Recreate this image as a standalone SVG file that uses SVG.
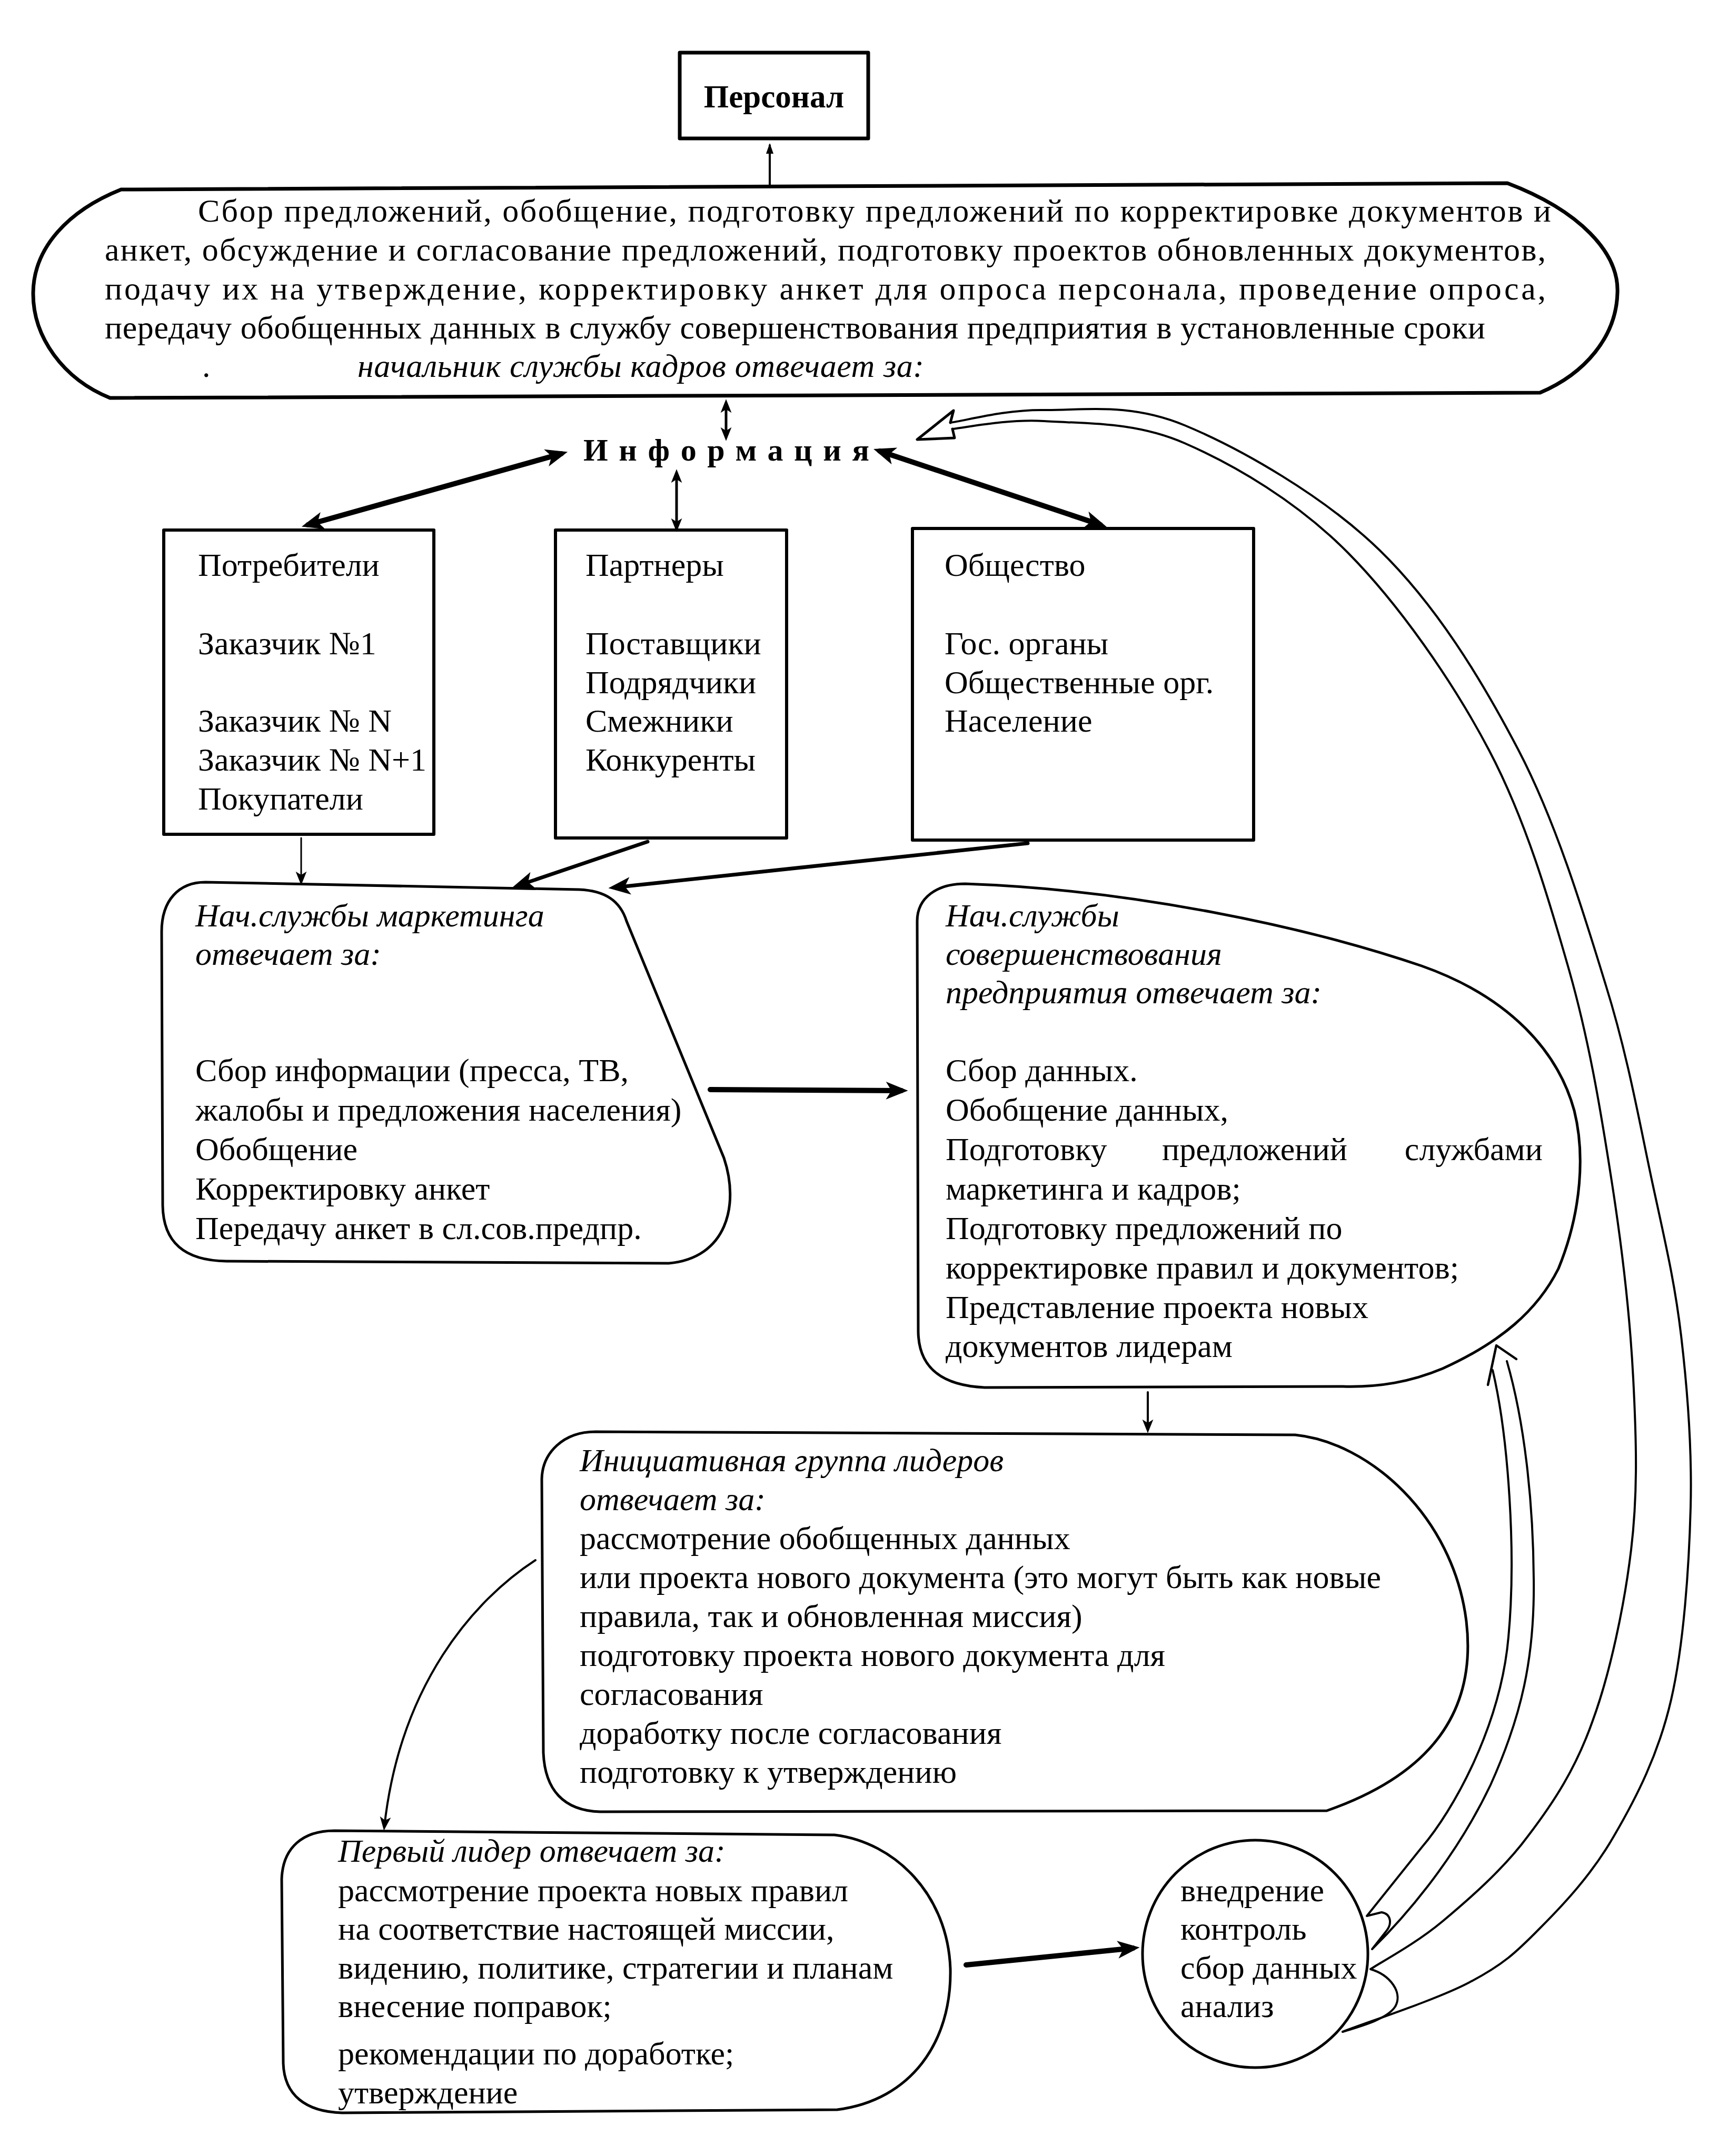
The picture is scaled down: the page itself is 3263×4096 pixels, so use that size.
<svg xmlns="http://www.w3.org/2000/svg" width="3263" height="4096" viewBox="0 0 3263 4096">
<style>
.b{fill:none;stroke:#000;stroke-width:5;stroke-linejoin:round}
.t{font-family:"Liberation Serif","Times New Roman",serif;font-size:62px;fill:#000}
.i{font-style:italic}
.c{fill:none;stroke:#000;stroke-linecap:round;stroke-linejoin:round}
</style>
<defs>
<marker id="ah" viewBox="0 0 10 10" refX="7" refY="5" markerWidth="50" markerHeight="42" markerUnits="userSpaceOnUse" orient="auto-start-reverse"><path d="M0,1 L10,5 L0,9 L2.5,5 Z" fill="#000"/></marker>
<marker id="as" viewBox="0 0 10 10" refX="7" refY="5" markerWidth="34" markerHeight="26" markerUnits="userSpaceOnUse" orient="auto-start-reverse"><path d="M0,1 L10,5 L0,9 L2.5,5 Z" fill="#000"/></marker>
<marker id="an" viewBox="0 0 10 10" refX="8" refY="5" markerWidth="30" markerHeight="20" markerUnits="userSpaceOnUse" orient="auto"><path d="M0,1.5 L10,5 L0,8.5 Z" fill="#000"/></marker>
</defs>
<rect width="3263" height="4096" fill="#fff"/>

<g id="personal">
<rect x="1291" y="100" width="358" height="163" class="b" style="stroke-width:7"/>
<text x="1470" y="204" class="t" style="font-weight:bold;font-size:61px" text-anchor="middle">Персонал</text>
</g>

<g id="hr-head">
<path class="b" style="stroke-width:7" d="M230,360 L2863,348 C3000,400 3075,480 3072,556 C3070,640 3010,710 2925,746 L209,756 C120,720 62,640 63,556 C64,470 130,400 230,360 Z"/>
<text class="t" x="376" y="421" textLength="2570">Сбор предложений, обобщение, подготовку предложений по корректировке документов и</text>
<text class="t" x="199" y="495" textLength="2737">анкет, обсуждение и согласование предложений, подготовку проектов обновленных документов,</text>
<text class="t" x="199" y="569" textLength="2737">подачу их на утверждение, корректировку анкет для опроса персонала, проведение опроса,</text>
<text class="t" x="199" y="643" textLength="2622">передачу обобщенных данных в службу совершенствования предприятия в установленные сроки</text>
<text class="t" x="384" y="716">.</text>
<text class="t i" x="679" y="716" textLength="1076">начальник службы кадров отвечает за:</text>
</g>

<g id="info">
<text class="t" x="1108" y="875" style="font-weight:bold;font-size:60px" textLength="543" lengthAdjust="spacing">Информация</text>
</g>

<g id="consumers">
<rect x="311" y="1007" width="513" height="578" class="b" style="stroke-width:6"/>
<text class="t" x="376" y="1094">Потребители</text>
<text class="t" x="376" y="1243">Заказчик №1</text>
<text class="t" x="376" y="1390">Заказчик № N</text>
<text class="t" x="376" y="1464">Заказчик № N+1</text>
<text class="t" x="376" y="1538">Покупатели</text>
</g>

<g id="partners">
<rect x="1055" y="1007" width="439" height="585" class="b" style="stroke-width:6"/>
<text class="t" x="1112" y="1094">Партнеры</text>
<text class="t" x="1112" y="1243">Поставщики</text>
<text class="t" x="1112" y="1317">Подрядчики</text>
<text class="t" x="1112" y="1390">Смежники</text>
<text class="t" x="1112" y="1464">Конкуренты</text>
</g>

<g id="society">
<rect x="1733" y="1004" width="648" height="592" class="b" style="stroke-width:6"/>
<text class="t" x="1794" y="1094">Общество</text>
<text class="t" x="1794" y="1243">Гос. органы</text>
<text class="t" x="1794" y="1317">Общественные орг.</text>
<text class="t" x="1794" y="1390">Население</text>
</g>

<g id="marketing">
<path class="b" d="M390,1676 L1100,1690 C1150,1692 1178,1712 1190,1750 L1375,2200 C1405,2290 1380,2390 1270,2400 L430,2396 C350,2395 310,2360 309,2290 L307,1770 C307,1710 340,1676 390,1676 Z"/>
<text class="t i" x="371" y="1760">Нач.службы маркетинга</text>
<text class="t i" x="371" y="1833">отвечает за:</text>
<text class="t" x="371" y="2054">Сбор информации (пресса, ТВ,</text>
<text class="t" x="371" y="2129">жалобы и предложения населения)</text>
<text class="t" x="371" y="2204">Обобщение</text>
<text class="t" x="371" y="2279">Корректировку анкет</text>
<text class="t" x="371" y="2354">Передачу анкет в сл.сов.предпр.</text>
</g>

<g id="improvement">
<path class="b" d="M1833,1679 C2150,1690 2480,1760 2700,1835 C2870,1895 2960,2000 2990,2110 C3010,2190 3005,2300 2960,2410 C2920,2490 2850,2550 2740,2600 C2680,2625 2620,2636 2550,2634 L1870,2636 C1790,2632 1745,2600 1744,2530 L1742,1750 C1742,1705 1780,1679 1833,1679 Z"/>
<text class="t i" x="1796" y="1760">Нач.службы</text>
<text class="t i" x="1796" y="1833">совершенствования</text>
<text class="t i" x="1796" y="1906">предприятия  отвечает за:</text>
<text class="t" x="1796" y="2054">Сбор данных.</text>
<text class="t" x="1796" y="2129">Обобщение данных,</text>
<text class="t" x="1796" y="2204">Подготовку</text>
<text class="t" x="2207" y="2204">предложений</text>
<text class="t" x="2930" y="2204" text-anchor="end">службами</text>
<text class="t" x="1796" y="2279">маркетинга и кадров;</text>
<text class="t" x="1796" y="2354">Подготовку предложений по</text>
<text class="t" x="1796" y="2429">корректировке правил и документов;</text>
<text class="t" x="1796" y="2504">Представление проекта новых</text>
<text class="t" x="1796" y="2578">документов лидерам</text>
</g>

<g id="initiative">
<path class="b" d="M1131,2720 L2460,2726 C2600,2740 2760,2880 2785,3080 C2805,3250 2720,3370 2520,3440 L1140,3442 C1070,3440 1035,3400 1032,3330 L1029,2810 C1030,2760 1070,2720 1131,2720 Z"/>
<text class="t i" x="1101" y="2795">Инициативная группа лидеров</text>
<text class="t i" x="1101" y="2869">отвечает за:</text>
<text class="t" x="1101" y="2943">рассмотрение обобщенных данных</text>
<text class="t" x="1101" y="3017">или проекта нового документа (это могут быть как новые</text>
<text class="t" x="1101" y="3091">правила, так и обновленная миссия)</text>
<text class="t" x="1101" y="3165">подготовку проекта нового документа для</text>
<text class="t" x="1101" y="3239">согласования</text>
<text class="t" x="1101" y="3313">доработку после согласования</text>
<text class="t" x="1101" y="3387">подготовку к  утверждению</text>
</g>

<g id="leader">
<path class="b" d="M635,3478 L1585,3486 C1700,3500 1800,3600 1805,3740 C1808,3880 1730,3990 1590,4008 L650,4014 C580,4012 540,3980 538,3920 L535,3570 C537,3510 575,3478 635,3478 Z"/>
<text class="t i" x="642" y="3537">Первый лидер отвечает за:</text>
<text class="t" x="642" y="3612">рассмотрение проекта новых правил</text>
<text class="t" x="642" y="3685">на соответствие настоящей  миссии,</text>
<text class="t" x="642" y="3759">видению, политике, стратегии и планам</text>
<text class="t" x="642" y="3832">внесение поправок;</text>
<text class="t" x="642" y="3922">рекомендации по доработке;</text>
<text class="t" x="642" y="3996">утверждение</text>
</g>

<g id="implementation">
<ellipse cx="2384" cy="3712" rx="214" ry="216" class="b"/>
<text class="t" x="2242" y="3612">внедрение</text>
<text class="t" x="2242" y="3685">контроль</text>
<text class="t" x="2242" y="3759">сбор данных</text>
<text class="t" x="2242" y="3832">анализ</text>
</g>

<g id="connectors">
<line class="c" x1="1462" y1="352" x2="1462" y2="276" style="stroke-width:4" marker-end="url(#an)"/>
<line class="c" x1="1379" y1="766" x2="1379" y2="830" style="stroke-width:5" marker-start="url(#as)" marker-end="url(#as)"/>
<line class="c" x1="1066" y1="862" x2="585" y2="997" style="stroke-width:10" marker-start="url(#ah)" marker-end="url(#ah)"/>
<line class="c" x1="1285" y1="899" x2="1285" y2="1003" style="stroke-width:5" marker-start="url(#as)" marker-end="url(#as)"/>
<line class="c" x1="1671" y1="857" x2="2090" y2="997" style="stroke-width:10" marker-start="url(#ah)" marker-end="url(#ah)"/>
<line class="c" x1="572" y1="1592" x2="572" y2="1674" style="stroke-width:3" marker-end="url(#as)"/>
<line class="c" x1="1230" y1="1599" x2="985" y2="1682" style="stroke-width:7" marker-end="url(#ah)"/>
<line class="c" x1="1952" y1="1602" x2="1168" y2="1686" style="stroke-width:7" marker-end="url(#ah)"/>
<line class="c" x1="1349" y1="2070" x2="1712" y2="2072" style="stroke-width:10" marker-end="url(#ah)"/>
<line class="c" x1="2180" y1="2645" x2="2180" y2="2715" style="stroke-width:4" marker-end="url(#as)"/>
<path class="c" d="M1017,2964 C900,3040 760,3200 730,3470" style="stroke-width:4" marker-end="url(#as)"/>
<line class="c" x1="1835" y1="3733" x2="2152" y2="3701" style="stroke-width:10" marker-end="url(#ah)"/>
<path class="c" style="stroke-width:4" d="M2835,2603 C2865,2730 2880,2950 2865,3110 C2850,3280 2760,3440 2700,3510 C2660,3560 2620,3610 2596,3640 L2624,3633 C2642,3636 2645,3655 2632,3670 L2606,3703 C2660,3650 2760,3540 2831,3391 C2890,3260 2915,3150 2913,3000 C2912,2850 2895,2700 2862,2586"/>
<path class="c" style="stroke-width:4.5" d="M2826,2631 L2842,2556 L2880,2582"/>
<path class="c" style="stroke-width:4" d="M1809,815 C1838,812 1910,796 1983,800 C2057,805 2154,800 2250,842 C2346,884 2464,953 2560,1050 C2656,1147 2758,1292 2828,1425 C2898,1558 2942,1709 2981,1846 C3020,1984 3042,2121 3062,2250 C3082,2379 3096,2503 3102,2619 C3108,2735 3111,2836 3098,2944 C3085,3052 3058,3179 3025,3269 C2993,3360 2951,3424 2903,3487 C2856,3551 2790,3608 2740,3650 C2690,3692 2626,3726 2603,3741 C2640,3752 2665,3785 2650,3812 C2635,3835 2590,3848 2550,3860"/>
<path class="c" style="stroke-width:4" d="M1805,803 C1835,799 1909,778 1983,779 C2057,780 2144,764 2250,808 C2356,852 2514,942 2620,1045 C2726,1148 2812,1287 2884,1425 C2956,1563 3008,1735 3050,1872 C3093,2010 3115,2139 3139,2250 C3163,2361 3181,2436 3193,2538 C3205,2640 3214,2748 3211,2863 C3208,2978 3198,3125 3174,3229 C3150,3333 3108,3415 3066,3487 C3025,3559 2971,3617 2925,3663 C2879,3710 2854,3733 2791,3766 C2729,3799 2590,3844 2550,3860"/>
<path class="c" style="stroke-width:5" d="M1805,803 L1811,780 L1742,835 L1813,832 L1809,815"/>
</g>
</svg>
